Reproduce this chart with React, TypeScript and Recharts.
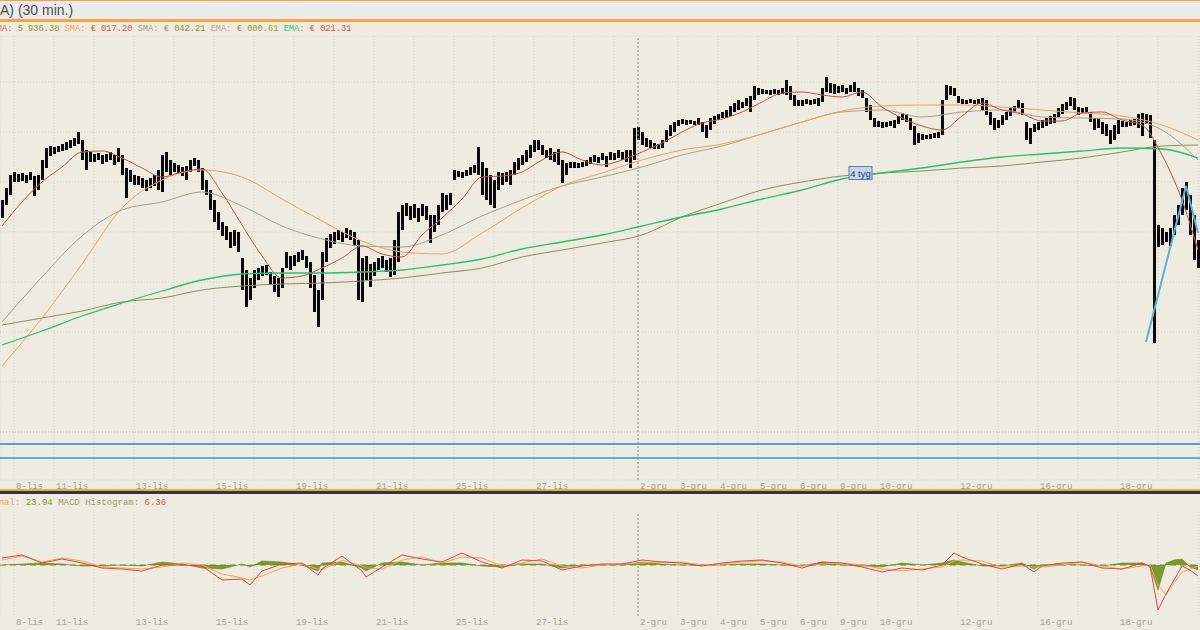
import React from "react";
import {
  ComposedChart,
  Bar,
  Line,
  Area,
  XAxis,
  YAxis,
  CartesianGrid,
  ReferenceLine,
  ReferenceDot,
} from "recharts";

// trading days and how many chart slots each one takes
const DAYS: [string, number][] = [
  ["7-lis", 3], ["8-lis", 10], ["11-lis", 10], ["12-lis", 10], ["13-lis", 10],
  ["14-lis", 10], ["15-lis", 10], ["18-lis", 10], ["19-lis", 10], ["20-lis", 10],
  ["21-lis", 10], ["22-lis", 10], ["25-lis", 10], ["26-lis", 10], ["27-lis", 10],
  ["28-lis", 10], ["29-lis", 6], ["2-gru", 10], ["3-gru", 10], ["4-gru", 10],
  ["5-gru", 10], ["6-gru", 10], ["9-gru", 10], ["10-gru", 10], ["11-gru", 10],
  ["12-gru", 10], ["13-gru", 10], ["16-gru", 10], ["17-gru", 10], ["18-gru", 10],
  ["19-gru", 10], ["20-gru", 1],
];

const SHOWN = [
  "8-lis", "11-lis", "13-lis", "15-lis", "19-lis", "21-lis", "25-lis", "27-lis",
  "2-gru", "3-gru", "4-gru", "5-gru", "6-gru", "9-gru", "10-gru", "12-gru", "16-gru", "18-gru",
];

// price bars: high / low per slot
const HIGH = [
  980, 992, 1005, 1008, 1006, 1007, 1005, 1008, 1004, 1005,
  1020, 1032, 1034, 1033, 1034, 1036, 1038, 1040, 1042, 1048,
  1040, 1030, 1028, 1026, 1027, 1025, 1026, 1028, 1025, 1032,
  1025, 1012, 1010, 1005, 1004, 1002, 1000, 1002, 1005, 1010,
  1025, 1028, 1020, 1017, 1015, 1013, 1014, 1020, 1022, 1020,
  1012, 1000, 990, 980, 968, 958, 954, 948, 950, 948,
  922, 910, 902, 910, 912, 914, 915, 908, 904, 902,
  912, 928, 924, 925, 928, 930, 924, 918, 905, 890,
  928, 942, 946, 948, 950, 948, 952, 950, 948, 940,
  922, 924, 916, 918, 922, 924, 920, 922, 940, 968,
  975, 977, 974, 976, 972, 976, 974, 965, 965, 975,
  987, 985, 987, 1010, 1009, 1008, 1010, 1013, 1015, 1033,
  1018, 1012, 1005, 1000, 1008, 1007, 1008, 1010, 1018, 1022,
  1025, 1030, 1035, 1040, 1040, 1035, 1030, 1032, 1028, 1031,
  1020, 1017, 1018, 1018, 1017, 1018, 1020, 1023, 1025, 1023,
  1027, 1024, 1028, 1027, 1030, 1028, 1030, 1030, 1052, 1053,
  1048, 1042, 1040, 1037, 1036, 1040, 1050, 1055, 1058, 1060,
  1061, 1060, 1060, 1059, 1062, 1058, 1055, 1062, 1064, 1066,
  1068, 1070, 1074, 1077, 1080, 1078, 1082, 1084, 1094, 1092,
  1091, 1090, 1090, 1091, 1090, 1092, 1100, 1094, 1085, 1080,
  1080, 1081, 1080, 1081, 1082, 1092, 1103, 1097, 1096, 1094,
  1095, 1092, 1095, 1098, 1092, 1090, 1082, 1075, 1062, 1059,
  1058, 1058, 1059, 1060, 1064, 1067, 1066, 1062, 1054, 1047,
  1046, 1045, 1046, 1047, 1048, 1080, 1095, 1094, 1092, 1084,
  1081, 1080, 1081, 1080, 1081, 1082, 1080, 1068, 1062, 1060,
  1065, 1068, 1072, 1074, 1080, 1077, 1058, 1052, 1056, 1058,
  1060, 1062, 1064, 1066, 1072, 1076, 1078, 1083, 1082, 1073,
  1072, 1073, 1068, 1062, 1062, 1058, 1056, 1050, 1055, 1060,
  1059, 1058, 1060, 1061, 1066, 1067, 1066, 1065, 1040, 955,
  952, 948, 952, 965, 975, 992, 998, 985, 965, 940,
];

const LOW = [
  962, 975, 985, 998, 998, 999, 997, 1000, 984, 990,
  1000, 1012, 1024, 1026, 1028, 1029, 1030, 1032, 1034, 1036,
  1020, 1010, 1018, 1018, 1020, 1016, 1018, 1020, 1015, 1018,
  1005, 982, 998, 995, 995, 992, 989, 992, 994, 990,
  988, 1008, 1005, 1008, 1006, 1004, 1000, 1008, 1014, 1008,
  990, 985, 970, 958, 950, 944, 940, 932, 934, 928,
  890, 873, 880, 892, 900, 904, 905, 895, 888, 883,
  892, 912, 910, 914, 918, 920, 912, 892, 868, 853,
  880, 918, 932, 936, 940, 938, 942, 940, 934, 880,
  878, 900, 893, 904, 910, 912, 908, 903, 905, 918,
  950, 964, 960, 962, 958, 964, 960, 937, 948, 955,
  968, 970, 975, 1000, 1003, 1002, 1004, 1005, 1007, 1005,
  985, 980, 975, 972, 990, 995, 998, 995, 1005, 1010,
  1015, 1018, 1022, 1028, 1030, 1025, 1022, 1020, 1018, 1015,
  997, 1005, 1012, 1012, 1012, 1013, 1014, 1016, 1018, 1017,
  1020, 1013, 1020, 1020, 1022, 1020, 1018, 1012, 1020, 1040,
  1035, 1033, 1032, 1031, 1031, 1032, 1038, 1044, 1048, 1054,
  1056, 1055, 1056, 1055, 1055, 1048, 1042, 1050, 1056, 1060,
  1062, 1062, 1064, 1068, 1070, 1072, 1074, 1068, 1080, 1085,
  1086, 1086, 1085, 1086, 1085, 1086, 1085, 1080, 1074, 1074,
  1074, 1076, 1075, 1076, 1074, 1078, 1088, 1087, 1086, 1087,
  1088, 1086, 1088, 1088, 1084, 1082, 1068, 1060, 1053, 1053,
  1052, 1053, 1054, 1052, 1056, 1060, 1058, 1050, 1035, 1037,
  1040, 1041, 1041, 1042, 1042, 1045, 1080, 1085, 1084, 1077,
  1076, 1076, 1077, 1076, 1076, 1070, 1065, 1055, 1050, 1052,
  1055, 1060, 1064, 1068, 1072, 1065, 1040, 1036, 1048, 1050,
  1052, 1054, 1056, 1057, 1062, 1066, 1070, 1074, 1070, 1065,
  1067, 1068, 1058, 1050, 1052, 1046, 1044, 1036, 1040, 1046,
  1053, 1053, 1054, 1055, 1052, 1044, 1056, 1042, 837, 933,
  935, 938, 934, 945, 955, 965, 970, 945, 920, 912,
];

// moving averages
const FAST_IDX = [
  0, 5, 10, 15, 20, 25, 30, 35, 40, 45, 50, 55, 60, 65, 70, 75, 80, 85, 90, 95,
  100, 105, 110, 115, 120, 125, 130, 135, 140, 145, 150, 155, 160, 165, 170, 175,
  180, 185, 190, 195, 200, 205, 210, 215, 220, 225, 230, 235, 240, 245, 250, 255,
  260, 265, 270, 275, 280, 285, 290, 295, 299,
];
const FAST_MA = [
  954, 978, 998, 1013, 1028, 1029, 1022, 1012, 1003, 1008, 1011, 987, 955, 924, 902, 904,
  912, 922, 934, 926, 923, 945, 962, 981, 1003, 1004, 1008, 1020, 1028, 1020, 1015, 1020,
  1028, 1037, 1048, 1057, 1061, 1068, 1078, 1087, 1088, 1085, 1083, 1088, 1073, 1062, 1054,
  1050, 1064, 1077, 1070, 1066, 1059, 1059, 1067, 1068, 1060, 1055, 1025, 980, 930,
];

const SLOW_IDX = [
  0, 10, 20, 30, 40, 50, 60, 70, 80, 90, 100, 110, 120, 130, 140, 150,
  160, 170, 180, 190, 200, 210, 220, 230, 240, 250, 260, 270, 280, 290, 299,
];
const ORANGE_MA = [
  814, 862, 916, 972, 1000, 1010, 1003, 981, 959, 939, 928, 926, 947, 972, 994, 1007,
  1020, 1030, 1036, 1046, 1058, 1069, 1074, 1075, 1075, 1073, 1070, 1067, 1064, 1055, 1040,
];
const GREY_MA = [
  858, 903, 944, 970, 978, 988, 974, 954, 941, 934, 933, 945, 964, 980, 994, 1003,
  1013, 1025, 1034, 1046, 1058, 1068, 1070, 1063, 1068, 1070, 1063, 1062, 1061, 1050, 1020,
];
const GREEN_MA = [
  835, 849, 864, 877, 889, 900, 906, 907, 907, 908, 910, 915, 921, 931, 938, 945,
  954, 963, 971, 981, 990, 1001, 1007, 1012, 1018, 1023, 1026, 1029, 1032, 1031, 1022,
];
const OLIVE_MA = [
  855, 862, 869, 878, 882, 890, 894, 896, 897, 899, 902, 907, 912, 923, 930, 937,
  945, 963, 977, 990, 998, 1004, 1007, 1009, 1012, 1014, 1018, 1022, 1028, 1034, 1035,
];

// drawn trend line and support levels
const TREND_IDX = [286, 296, 299];
const TREND = [838, 994, 947];
const SUPPORT = [736, 722];

// MACD panel
const MACD_IDX = [
  0, 5, 10, 15, 20, 25, 30, 35, 40, 45, 50, 55, 60, 62, 65, 70, 75, 79, 80, 85,
  90, 91, 95, 100, 105, 110, 115, 120, 125, 130, 135, 140, 145, 150, 155, 160,
  165, 170, 175, 180, 185, 190, 195, 200, 205, 210, 215, 220, 225, 230, 235, 238,
  240, 245, 250, 255, 258, 260, 265, 270, 275, 280, 285, 287, 289, 291, 293, 295, 297, 299,
];
const MACD_LINE = [
  7, 10, 2, 6, 2, -3, -4, -6, 0, 0, -1, -15, -14, -20, -6, 1, 2, -10, -4, 9,
  -6, -12, -2, 10, 6, 3, 12, 3, -3, 5, 4, -5, -1, 1, 1, 5,
  3, 2, -1, 2, 4, 5, 2, -3, 3, 2, -2, -7, -3, -5, 0, 12,
  8, 1, -4, 1, -7, -1, 2, 3, -3, -4, 2, -1, -45, -29, -15, -1, -5, -11,
];
const MACD_SIGNAL = [
  5, 9, 3, 7, 4, -2, -3, -4, -2, 2, 0, -9, -13, -15, -11, -3, 1, -4, -5, 5,
  -1, -3, -4, 5, 8, 2, 8, 7, -1, 2, 6, -1, -3, 0, 1, 2,
  3, 3, 0, 1, 3, 4, 3, -1, 1, 2, 0, -4, -6, -4, -2, 4,
  5, 4, -2, -1, -2, -2, 0, 3, -1, -4, -1, 0, -20, -30, -18, -7, -4, -1,
];
const MACD_HIST = [
  0, 1, 2, 1, -1, -1, 0, -1, 3, 1, -3, -4, 1, -2, 4, 3, 0, -6, 2, 3,
  -3, -6, 2, 3, 0, 2, 2, -1, -2, 1, 1, -3, 0, 0, 0, 3,
  1, 0, 0, 0, 1, 1, 0, -1, 3, 0, -1, -2, 2, 0, 2, 5,
  3, -1, -1, 2, -4, 0, 1, 0, -1, 2, 2, -2, -25, 2, 5, 6, -2, -5,
];

const MONO = "'Liberation Mono', 'DejaVu Sans Mono', monospace";
const BG = "#eeebe0";

// build tables
const dayStarts: { i: number; label: string }[] = [];
let acc = 0;
for (const [label, n] of DAYS) {
  dayStarts.push({ i: acc, label });
  acc += n;
}
const TICKS = dayStarts.filter((d) => d.i > 0).map((d) => d.i);
const LABEL_AT: Record<number, string> = {};
dayStarts.forEach((d) => {
  if (SHOWN.includes(d.label)) LABEL_AT[d.i] = d.label;
});
const MONTH_START = dayStarts.find((d) => d.label === "2-gru")!.i;

const priceData: any[] = HIGH.map((h, i) => ({ i, hl: [LOW[i], h] }));
FAST_IDX.forEach((idx, k) => (priceData[idx].fast = FAST_MA[k]));
SLOW_IDX.forEach((idx, k) => {
  priceData[idx].orange = ORANGE_MA[k];
  priceData[idx].grey = GREY_MA[k];
  priceData[idx].green = GREEN_MA[k];
  priceData[idx].olive = OLIVE_MA[k];
});
TREND_IDX.forEach((idx, k) => (priceData[idx].trend = TREND[k]));

const macdData: any[] = HIGH.map((_, i) => ({ i }));
MACD_IDX.forEach((idx, k) => {
  macdData[idx].macd = MACD_LINE[k];
  macdData[idx].signal = MACD_SIGNAL[k];
  macdData[idx].hist = MACD_HIST[k];
});

const DayTick = ({ x, y, payload }: any) => {
  const label = LABEL_AT[payload.value];
  if (!label) return <g />;
  return (
    <text x={x + 2} y={y + 9} fill="#a3a29c" fontSize={9} fontFamily={MONO}>
      {label}
    </text>
  );
};

const TagShape = ({ cx, cy }: any) => (
  <g>
    <rect x={cx - 13} y={cy - 6.5} width={23} height={13} fill="#c4d4ef" stroke="#5a7db5" />
    <text
      x={cx - 1.5}
      y={cy + 3.5}
      textAnchor="middle"
      fontSize={9.5}
      fontFamily="'Liberation Sans', Arial, sans-serif"
      fill="#1f3c7a"
    >
      4 tyg
    </text>
  </g>
);

function PriceChart() {
  return (
    <ComposedChart
      width={1200}
      height={456}
      data={priceData}
      margin={{ top: 0, right: 0, bottom: 0, left: 0 }}
      barCategoryGap={0}
    >
      <CartesianGrid stroke="#d9d5c7" strokeDasharray="1 2" />
      <XAxis
        dataKey="i"
        ticks={TICKS}
        interval={0}
        tick={<DayTick />}
        tickSize={0}
        tickMargin={0}
        axisLine={false}
        tickLine={false}
        height={12}
      />
      <YAxis
        hide
        type="number"
        domain={[700, 1144]}
        ticks={[748, 798, 848, 898, 948, 998, 1048, 1098]}
        allowDataOverflow
      />
      <ReferenceLine y={748} stroke="#e7b9b0" strokeDasharray="1 2" />
      <ReferenceLine x={MONTH_START} stroke="#8c8c8c" strokeDasharray="2 2" />
      <ReferenceLine y={SUPPORT[0]} stroke="#5b9fd3" strokeWidth={2} />
      <ReferenceLine y={SUPPORT[1]} stroke="#52b3c8" strokeWidth={2} />
      <Bar dataKey="hl" fill="#0a0a0a" barSize={3} isAnimationActive={false} />
      <Line type="monotone" dataKey="olive" stroke="#8f8c62" strokeWidth={1} dot={false} connectNulls isAnimationActive={false} />
      <Line type="monotone" dataKey="green" stroke="#2fbd72" strokeWidth={1.3} dot={false} connectNulls isAnimationActive={false} />
      <Line type="monotone" dataKey="grey" stroke="#a8a48a" strokeWidth={1} dot={false} connectNulls isAnimationActive={false} />
      <Line type="monotone" dataKey="orange" stroke="#f4a15c" strokeWidth={1} dot={false} connectNulls isAnimationActive={false} />
      <Line type="monotone" dataKey="fast" stroke="#c4544c" strokeWidth={1} dot={false} connectNulls isAnimationActive={false} />
      <Line dataKey="trend" stroke="#59b2da" strokeWidth={2} dot={false} connectNulls isAnimationActive={false} />
      <ReferenceDot x={215} y={1007} shape={<TagShape />} />
    </ComposedChart>
  );
}

function MacdChart() {
  return (
    <ComposedChart
      width={1200}
      height={118}
      data={macdData}
      margin={{ top: 0, right: 0, bottom: 0, left: 0 }}
      barCategoryGap={0}
    >
      <CartesianGrid stroke="#d9d5c7" strokeDasharray="1 2" horizontal={false} />
      <XAxis
        dataKey="i"
        ticks={TICKS}
        interval={0}
        tick={<DayTick />}
        tickSize={0}
        tickMargin={0}
        axisLine={false}
        tickLine={false}
        height={14}
      />
      <YAxis hide type="number" domain={[-51, 53]} allowDataOverflow />
      <ReferenceLine x={MONTH_START} stroke="#8c8c8c" strokeDasharray="2 2" />
      <Bar dataKey="pad" isAnimationActive={false} />
      <Area
        dataKey="hist"
        type="linear"
        baseValue={0}
        fill="#7b9a2c"
        fillOpacity={1}
        stroke="#6b8a22"
        strokeWidth={0.6}
        connectNulls
        isAnimationActive={false}
      />
      <ReferenceLine y={0} stroke="#6f9030" strokeDasharray="6 4" />
      <Line dataKey="signal" stroke="#f3a35e" strokeWidth={1} dot={false} connectNulls isAnimationActive={false} />
      <Line dataKey="macd" stroke="#e2473b" strokeWidth={1} dot={false} connectNulls isAnimationActive={false} />
    </ComposedChart>
  );
}

export default function App() {
  return (
    <div
      style={{
        position: "absolute",
        left: 0,
        top: 0,
        width: 1200,
        height: 630,
        overflow: "hidden",
        background: BG,
      }}
    >
      <div
        style={{
          position: "absolute",
          left: 0,
          top: 0,
          width: 1200,
          height: 22,
          boxSizing: "border-box",
          background: "#ebebee",
          borderTop: "1px solid #f3a546",
          borderBottom: "3px solid #f3a546",
        }}
      >
        <span
          style={{
            position: "absolute",
            left: 0,
            top: 1,
            fontFamily: "'Liberation Sans', Arial, sans-serif",
            fontSize: 14,
            color: "#4e4e4e",
            whiteSpace: "pre",
          }}
        >
          A) (30 min.)
        </span>
      </div>

      <div
        style={{
          position: "absolute",
          left: -3.2,
          top: 24,
          fontFamily: MONO,
          fontSize: 8.7,
          lineHeight: "10px",
          whiteSpace: "pre",
        }}
      >
        <span style={{ color: "#df6461" }}>MA:</span> <span style={{ color: "#8c9b3e" }}>5 936.38</span>{" "}
        <span style={{ color: "#f2a261" }}>SMA:</span> <span style={{ color: "#e2524a" }}>€ 017.20</span>{" "}
        <span style={{ color: "#a8a488" }}>SMA:</span> <span style={{ color: "#7f9a3a" }}>€ 042.21</span>{" "}
        <span style={{ color: "#b4ab8c" }}>EMA:</span> <span style={{ color: "#8c9b3e" }}>€ 000.61</span>{" "}
        <span style={{ color: "#3cbf7a" }}>EMA:</span> <span style={{ color: "#e2524a" }}>€ 021.31</span>
      </div>

      <div style={{ position: "absolute", left: 0, top: 36 }}>
        <PriceChart />
      </div>

      <div style={{ position: "absolute", left: 0, top: 489, width: 1200, height: 2, background: "#f3a546" }} />
      <div style={{ position: "absolute", left: 0, top: 491, width: 1200, height: 3, background: "#2c3848" }} />

      <div
        style={{
          position: "absolute",
          left: -17.5,
          top: 498,
          fontFamily: MONO,
          fontSize: 9,
          lineHeight: "10px",
          whiteSpace: "pre",
        }}
      >
        <span style={{ color: "#f0a254" }}>Signal:</span> <span style={{ color: "#7f9a3a" }}>23.94</span>{" "}
        <span style={{ color: "#9c9b78" }}>MACD Histogram:</span> <span style={{ color: "#e5504a" }}>6.36</span>
      </div>

      <div style={{ position: "absolute", left: 0, top: 512 }}>
        <MacdChart />
      </div>
    </div>
  );
}
